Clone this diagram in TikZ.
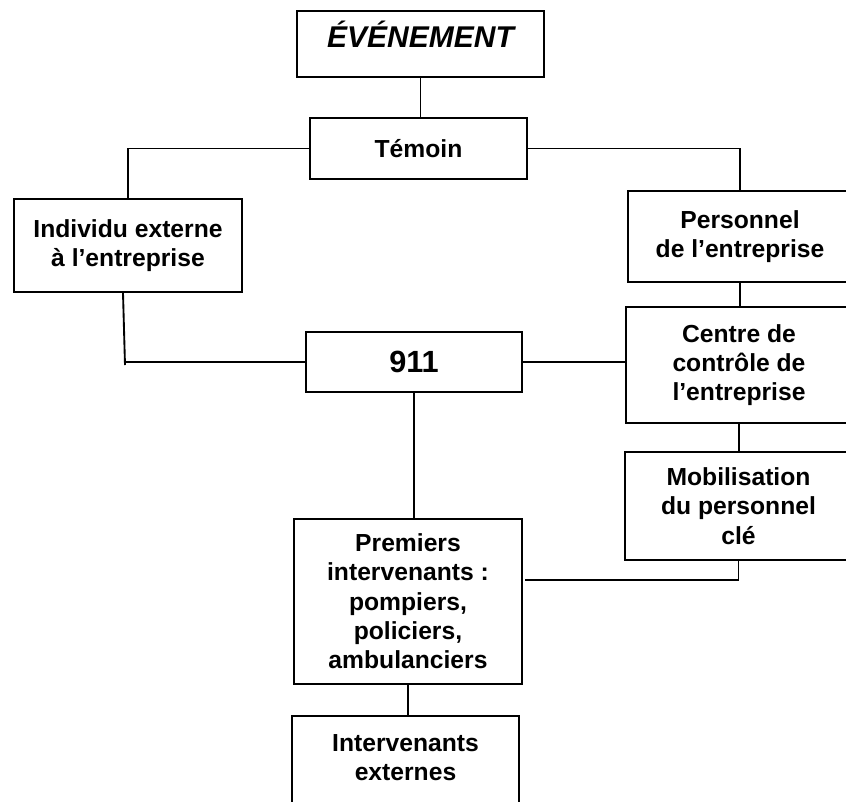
\documentclass[tikz,border=0pt]{standalone}
\usepackage{fontspec}
\setmainfont{Liberation Sans}
\begin{document}
\begin{tikzpicture}[x=0.75pt,y=-0.75pt,
  box/.style={draw, line width=1.4pt, inner sep=0pt, align=center,
    font=\fontsize{18.5}{22}\selectfont\bfseries},
  conn/.style={line width=1.4pt}]
\useasboundingbox (0,0) rectangle (846,801);
\clip (0,0) rectangle (846,801);

\node[box, minimum width=185.25pt, minimum height=49.5pt, text height=20pt, text depth=14.5pt,
  font=\fontsize{22.5}{24}\selectfont\bfseries\itshape] (E) at (420.5,44) {ÉVÉNEMENT};
\node[box, minimum width=162.75pt, minimum height=45.75pt] (T) at (418.5,148.5) {Témoin};
\node[box, minimum width=171pt, minimum height=69.75pt] (I) at (128,245.5) {Individu externe\\à l’entreprise};
\node[box, minimum width=168pt, minimum height=68.25pt] (P) at (740,236.5) {Personnel\\de l’entreprise};
\node[box, minimum width=162pt, minimum height=45pt,
  font=\fontsize{23}{24}\selectfont\bfseries] (N) at (414,362) {911};
\node[box, minimum width=169.5pt, minimum height=87pt] (C) at (739,365) {Centre de\\contrôle de\\l’entreprise};
\node[box, minimum width=170.25pt, minimum height=81pt] (M) at (738.5,506) {Mobilisation\\du personnel\\clé};
\node[box, minimum width=171pt, minimum height=123.75pt] (PI) at (408,601.5) {Premiers\\intervenants :\\pompiers,\\policiers,\\ambulanciers};
\node[box, minimum width=170.25pt, minimum height=85.5pt] (IE) at (405.5,773) {};
\node[box, draw=none] (IEt) at (405.5,757.5) {Intervenants\\externes};

\coordinate (k1) at (125,365);
\coordinate (k2) at (125,362);
\coordinate (m1) at (525,580);

\draw[conn] (E.south) -- (E.south |- T.north);
\draw[conn] (T.west) -| (I.north);
\draw[conn] (T.east) -| (P.north);
\draw[conn] ([xshift=-3.75pt]I.south) -- (k1);
\draw[conn] (k2) -- (N.west);
\draw[conn] (N.east) -- (N.east -| C.west);
\draw[conn] (P.south) -- (P.south |- C.north);
\draw[conn] (C.south) -- (C.south |- M.north);
\draw[conn] (N.south) -- (N.south |- PI.north);
\draw[conn] (M.south) |- (m1);
\draw[conn] (PI.south) -- (PI.south |- IE.north);
\end{tikzpicture}
\end{document}
